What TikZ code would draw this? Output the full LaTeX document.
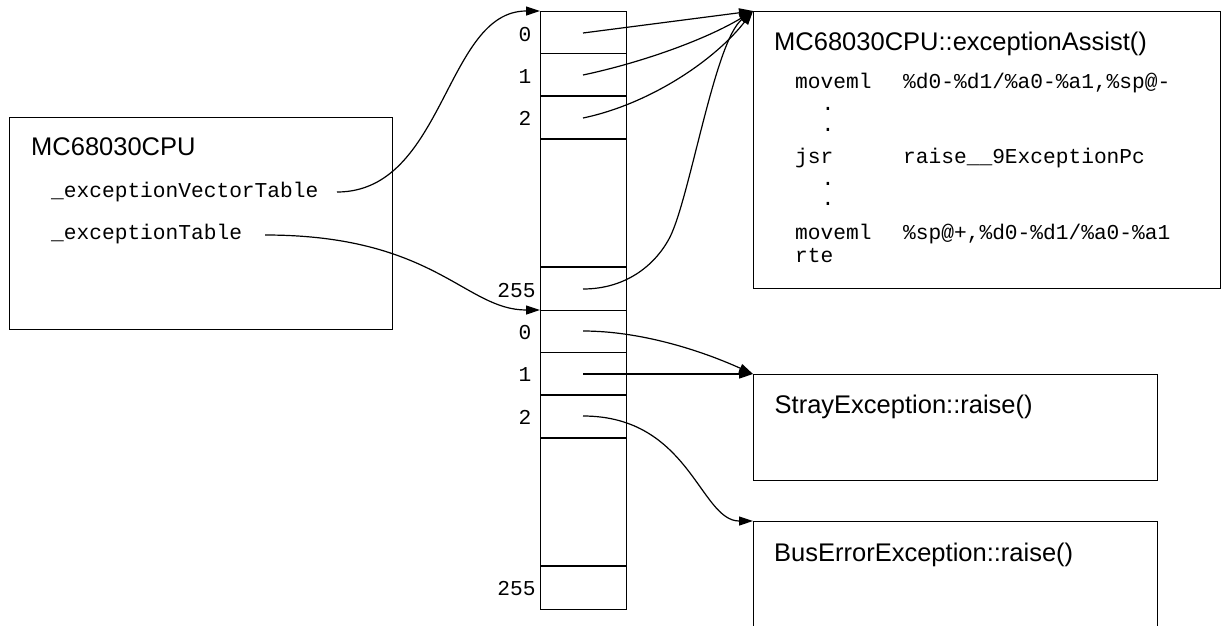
\documentclass[tikz,border=0pt]{standalone}
\usepackage{fontspec}
\setmainfont{Liberation Sans}
\setmonofont{Liberation Mono}
\usetikzlibrary{arrows.meta}
\begin{document}
\begin{tikzpicture}[x=1pt,y=-1pt,
  box/.style={draw, line width=1.3pt, rectangle, anchor=north west, inner sep=0pt},
  title/.style={anchor=base west, inner sep=0pt, font=\fontsize{25.5}{30}\selectfont},
  code/.style={anchor=base west, inner sep=0pt, font=\ttfamily\fontsize{21.2}{24}\selectfont},
  idx/.style={anchor=base, inner sep=0pt, font=\ttfamily\fontsize{21.2}{24}\selectfont},
  link/.style={line width=1.2pt, -{Triangle[length=14pt,width=9pt]}},
  rowline/.style={line width=1.2pt}]
\useasboundingbox (0,0) rectangle (1221,625);

% boxes
\node[box, minimum width=383pt, minimum height=212pt] (cpu) at (9,117) {};
\node[box, minimum width=467pt, minimum height=277pt] (assist) at (753,11) {};
\node[box, minimum width=404pt, minimum height=106pt] (stray) at (753,374) {};
\node[box, minimum width=404pt, minimum height=130pt] (buserr) at (753,521) {};
\node[box, minimum width=86pt, minimum height=299pt] (vtab) at (540,11) {};
\node[box, minimum width=86pt, minimum height=298.5pt] (etab) at (540,310) {};

% table rows
\draw[rowline] (540,53.5) -- (626,53.5);
\draw[rowline] (540,96) -- (626,96);
\draw[rowline] (540,139) -- (626,139);
\draw[rowline] (540,267) -- (626,267);
\draw[rowline] (540,352.5) -- (626,352.5);
\draw[rowline] (540,395) -- (626,395);
\draw[rowline] (540,438) -- (626,438);
\draw[rowline] (540,566) -- (626,566);

% indices
\node[idx] (iv0) at (525,41.7) {0};
\node[idx] (iv1) at (525,83.3) {1};
\node[idx] (iv2) at (525,125) {2};
\node[idx] (iv255) at (516.5,297.7) {255};
\node[idx] (ie0) at (525,339.3) {0};
\node[idx] (ie1) at (525,381.7) {1};
\node[idx] (ie2) at (525,424.3) {2};
\node[idx] (ie255) at (516.5,595) {255};

% texts
\node[title] (cpuT) at (31,155) {MC68030CPU};
\node[code] (mvt) at (51,197) {\_exceptionVectorTable};
\node[code] (met) at (51,239) {\_exceptionTable};
\node[title] (assistT) at (774,50) {MC68030CPU::exceptionAssist()};
\node[code] (c1a) at (795,88) {moveml};
\node[code] (c1b) at (903,88) {\%d0-\%d1/\%a0-\%a1,\%sp@-};
\node[idx] (d1) at (828,110) {.};
\node[idx] (d2) at (828,131) {.};
\node[code] (c2a) at (795,163) {jsr};
\node[code] (c2b) at (903,163) {raise\_\_9ExceptionPc};
\node[idx] (d3) at (828,185) {.};
\node[idx] (d4) at (828,205) {.};
\node[code] (c3a) at (795,239) {moveml};
\node[code] (c3b) at (903,239) {\%sp@+,\%d0-\%d1/\%a0-\%a1};
\node[code] (c4a) at (795,262) {rte};
\node[title] (strayT) at (774.5,413) {StrayException::raise()};
\node[title] (busT) at (774,561) {BusErrorException::raise()};

% anchors
\coordinate (pvt) at (337,192);
\coordinate (pet) at (265,235);
\coordinate (v0) at (583,33);
\coordinate (v1) at (583,75);
\coordinate (v2) at (583,118);
\coordinate (v255) at (583,289);
\coordinate (e0) at (583,331);
\coordinate (e1) at (583,374);
\coordinate (e2) at (583,416);

% connectors
\draw[link] (pvt) .. controls (445,192) and (445,11) .. (vtab.north west);
\draw[link] (pet) .. controls (435,235) and (465,310) .. (etab.north west);
\draw[link] (v0) -- (assist.north west);
\draw[link] (v1) .. controls (640,63) and (705,40) .. (assist.north west);
\draw[link] (v2) .. controls (650,104) and (715,60) .. (assist.north west);
\draw[link] (v255) .. controls (625,289) and (655,266) .. (670,237)
   .. controls (690,197) and (715,40) .. (assist.north west);
\draw[link] (e0) .. controls (640,331) and (700,350) .. (stray.north west);
\draw[link] (e1) -- (stray.north west);
\draw[link] (e2) .. controls (690,416) and (700,521) .. (buserr.north west);
\end{tikzpicture}
\end{document}
